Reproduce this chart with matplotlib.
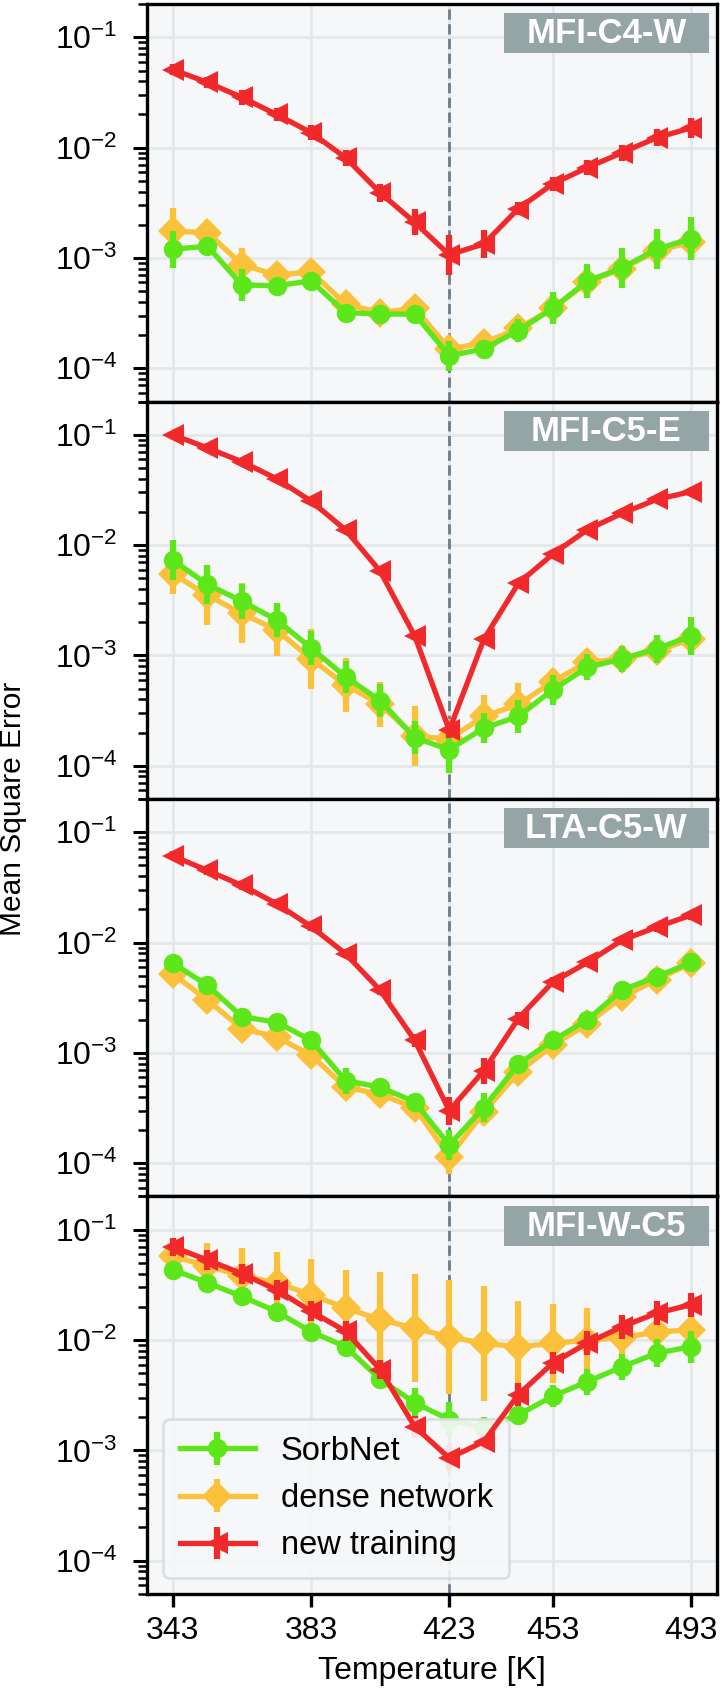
import matplotlib.pyplot as plt
import numpy as np

plt.rcParams['font.family'] = ['Liberation Sans', 'DejaVu Sans']
plt.rcParams['mathtext.default'] = 'regular'

temps = [343, 353, 363, 373, 383, 393, 403, 413, 423, 433, 443, 453, 463, 473, 483, 493]
xtick_vals = [343, 383, 423, 453, 493]
panel_names = ['MFI-C4-W', 'MFI-C5-E', 'LTA-C5-W', 'MFI-W-C5']
series_names = ['SorbNet', 'dense network', 'new training']

# mean square error per temperature, and the spread factor of the error bar (value / f .. value * f)
sorbnet_c4w = [1.2e-3, 1.28e-3, 5.7e-4, 5.6e-4, 6.2e-4, 3.2e-4, 3.1e-4, 3.1e-4, 1.3e-4, 1.5e-4, 2.2e-4, 3.5e-4, 6.2e-4, 8.1e-4, 1.2e-3, 1.5e-3]
sorbnet_c4w_f = [1.47, 1.17, 1.4, 1.15, 1.18, 1.15, 1.15, 1.15, 1.37, 1.18, 1.26, 1.4, 1.42, 1.52, 1.52, 1.58]
dense_c4w = [1.75e-3, 1.7e-3, 8.7e-4, 7.0e-4, 7.5e-4, 3.8e-4, 3.2e-4, 3.5e-4, 1.5e-4, 1.7e-4, 2.3e-4, 3.5e-4, 6.0e-4, 8.0e-4, 1.15e-3, 1.4e-3]
dense_c4w_f = [1.62, 1.23, 1.42, 1.15, 1.15, 1.2, 1.25, 1.25, 1.31, 1.2, 1.22, 1.3, 1.2, 1.2, 1.25, 1.42]
new_c4w = [0.051, 0.039, 0.0285, 0.020, 0.0137, 0.0081, 0.0039, 0.0021, 1.07e-3, 1.34e-3, 0.0028, 0.0047, 0.0066, 0.0090, 0.0123, 0.0151]
new_c4w_f = [1.13, 1.13, 1.18, 1.15, 1.18, 1.18, 1.2, 1.31, 1.52, 1.34, 1.15, 1.15, 1.18, 1.18, 1.2, 1.23]

sorbnet_c5e = [7.3e-3, 4.4e-3, 3.1e-3, 2.1e-3, 1.17e-3, 6.4e-4, 3.9e-4, 1.8e-4, 1.4e-4, 2.2e-4, 2.8e-4, 4.9e-4, 7.8e-4, 9.3e-4, 1.15e-3, 1.5e-3]
sorbnet_c5e_f = [1.52, 1.49, 1.44, 1.42, 1.42, 1.4, 1.4, 1.4, 1.62, 1.37, 1.4, 1.37, 1.31, 1.31, 1.34, 1.49]
dense_c5e = [5.5e-3, 3.5e-3, 2.4e-3, 1.7e-3, 9.3e-4, 5.4e-4, 3.6e-4, 1.85e-4, 1.75e-4, 2.8e-4, 3.6e-4, 5.8e-4, 8.7e-4, 9.3e-4, 1.1e-3, 1.4e-3]
dense_c5e_f = [1.52, 1.87, 1.87, 1.72, 1.87, 1.75, 1.6, 1.87, 1.52, 1.58, 1.55, 1.3, 1.2, 1.22, 1.3, 1.3]
new_c5e = [0.100, 0.076, 0.057, 0.040, 0.025, 0.0137, 0.0058, 0.0015, 2.1e-4, 0.0014, 0.0045, 0.0083, 0.0138, 0.0194, 0.0259, 0.0305]
new_c5e_f = [1.05, 1.05, 1.05, 1.05, 1.05, 1.05, 1.05, 1.05, 1.18, 1.05, 1.05, 1.05, 1.05, 1.05, 1.05, 1.05]

sorbnet_c5w = [6.5e-3, 4.1e-3, 2.13e-3, 1.9e-3, 1.3e-3, 5.6e-4, 4.9e-4, 3.6e-4, 1.46e-4, 3.2e-4, 7.9e-4, 1.3e-3, 2.0e-3, 3.7e-3, 4.9e-3, 6.6e-3]
sorbnet_c5w_f = [1.1, 1.1, 1.1, 1.1, 1.1, 1.31, 1.1, 1.1, 1.37, 1.34, 1.15, 1.1, 1.1, 1.1, 1.1, 1.1]
dense_c5w = [5.2e-3, 3.0e-3, 1.66e-3, 1.4e-3, 9.5e-4, 4.9e-4, 4.2e-4, 3.2e-4, 1.15e-4, 2.9e-4, 6.7e-4, 1.17e-3, 1.84e-3, 3.2e-3, 4.6e-3, 6.5e-3]
dense_c5w_f = [1.1, 1.1, 1.1, 1.1, 1.1, 1.1, 1.1, 1.1, 1.44, 1.25, 1.1, 1.1, 1.1, 1.1, 1.1, 1.1]
new_c5w = [0.061, 0.045, 0.033, 0.0225, 0.0140, 0.0079, 0.0037, 0.0013, 3.0e-4, 6.9e-4, 0.00205, 0.0044, 0.0066, 0.0105, 0.0138, 0.0177]
new_c5w_f = [1.1, 1.1, 1.1, 1.1, 1.1, 1.1, 1.1, 1.15, 1.34, 1.31, 1.15, 1.1, 1.1, 1.1, 1.1, 1.1]

sorbnet_wc5 = [0.0434, 0.033, 0.0248, 0.0181, 0.0119, 0.0087, 0.0044, 0.0027, 0.0019, 0.00158, 0.0021, 0.0031, 0.0042, 0.0057, 0.0076, 0.0087]
sorbnet_wc5_f = [1.2, 1.15, 1.15, 1.15, 1.15, 1.15, 1.15, 1.37, 1.45, 1.28, 1.2, 1.25, 1.31, 1.31, 1.34, 1.4]
dense_wc5 = [0.0573, 0.047, 0.038, 0.033, 0.0257, 0.0195, 0.0153, 0.0128, 0.0107, 0.0093, 0.0087, 0.0093, 0.0100, 0.0105, 0.0118, 0.0124]
dense_wc5_f = [1.25, 1.62, 1.78, 1.9, 2.12, 2.2, 2.73, 3.1, 3.3, 3.35, 2.6, 2.3, 1.97, 1.62, 1.31, 1.34]
new_wc5 = [0.070, 0.053, 0.040, 0.0285, 0.0182, 0.0120, 0.0054, 0.00164, 8.5e-4, 0.00120, 0.0032, 0.0062, 0.0094, 0.0132, 0.0175, 0.0209]
new_wc5_f = [1.2, 1.23, 1.23, 1.23, 1.23, 1.23, 1.23, 1.26, 1.31, 1.19, 1.28, 1.26, 1.28, 1.28, 1.28, 1.28]

sorbnet_all = [(sorbnet_c4w, sorbnet_c4w_f), (sorbnet_c5e, sorbnet_c5e_f), (sorbnet_c5w, sorbnet_c5w_f), (sorbnet_wc5, sorbnet_wc5_f)]
dense_all = [(dense_c4w, dense_c4w_f), (dense_c5e, dense_c5e_f), (dense_c5w, dense_c5w_f), (dense_wc5, dense_wc5_f)]
new_all = [(new_c4w, new_c4w_f), (new_c5e, new_c5e_f), (new_c5w, new_c5w_f), (new_wc5, new_wc5_f)]

green = '#5de619'
yellow = '#fcc13a'
red = '#f2292b'
bg = '#f6f7f8'
gridc = '#e3e8eb'
box_grey = '#95a5a6'
FS = 23


def err_bar(vals, fac):
    v = np.array(vals)
    f = np.array(fac)
    return [v - v / f, v * f - v]


fig, axes = plt.subplots(4, 1, figsize=(7.23, 17.02), dpi=100, sharex=True)
fig.subplots_adjust(left=0.2033, right=0.9917, top=0.9976, bottom=0.0635, hspace=0)

handles = []
for i, ax in enumerate(axes):
    ax.set_facecolor(bg)
    ax.set_yscale('log')
    ax.set_ylim(5e-5, 0.2)
    ax.grid(True, which='major', color=gridc, linewidth=2.0, zorder=0)
    ax.set_axisbelow(True)
    for sp in ax.spines.values():
        sp.set_linewidth(2.4)
        sp.set_color('black')

    ax.axvline(423, color='#6e7c88', linestyle='--', linewidth=2.0, zorder=1.5)

    series = [
        (dense_all[i], yellow, 'D', 15, 3),
        (sorbnet_all[i], green, 'o', 14, 4),
        (new_all[i], red, '<', 16, 5),
    ]
    hs = []
    for (vals, fac), col, mk, ms, z in series:
        h = ax.errorbar(temps, vals, yerr=err_bar(vals, fac), color=col, marker=mk,
                        markersize=ms, linewidth=3.8, elinewidth=4.5, capsize=0,
                        markeredgewidth=0, zorder=z)
        hs.append(h)
    handles = [hs[1], hs[0], hs[2]]

    # panel name tag
    ax.add_patch(plt.Rectangle((0.626, 0.876), 0.360, 0.101, transform=ax.transAxes,
                               facecolor=box_grey, edgecolor='none', zorder=6))
    ax.text(0.806, 0.925, panel_names[i], transform=ax.transAxes, ha='center', va='center',
            color='white', fontsize=25, fontweight='bold', zorder=7)

    ax.tick_params(axis='y', which='major', direction='out', length=10, width=2.2,
                   labelsize=FS, pad=11)
    ax.tick_params(axis='y', which='minor', direction='out', length=6.5, width=1.8)
    if i < 3:
        ax.tick_params(axis='x', which='both', length=0)

ax = axes[-1]
ax.set_xticks(xtick_vals)
ax.set_xticklabels([str(t) for t in xtick_vals])
ax.tick_params(axis='x', direction='out', length=9, width=2.4, labelsize=FS, pad=7)
ax.set_xlabel('Temperature [K]', fontsize=FS, labelpad=7)

fig.text(0.018, 0.525, 'Mean Square Error', rotation=90, ha='center', va='center', fontsize=21.5)

leg = ax.legend(handles, series_names, loc='lower left', fontsize=23.5, frameon=True,
                fancybox=True, facecolor=bg, edgecolor='#d8dde0', framealpha=0.9,
                handlelength=2.3, handletextpad=0.8, borderpad=0.5, labelspacing=0.5)
leg.get_frame().set_linewidth(2)

fig.savefig('out.png', dpi=100)
